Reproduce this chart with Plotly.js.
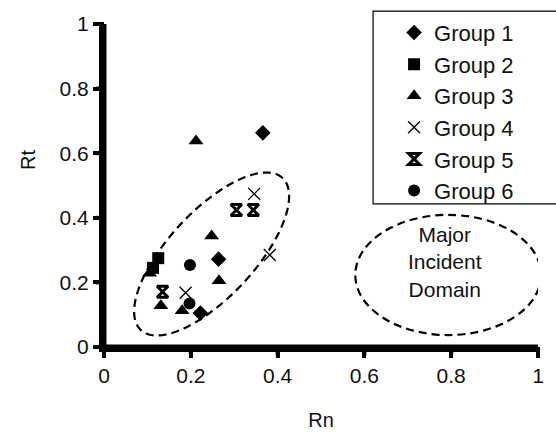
<!DOCTYPE html>
<html>
<head>
<meta charset="utf-8">
<script src="https://cdn.plot.ly/plotly-3.0.1.min.js"></script>
<style>html,body{margin:0;padding:0;background:#fff;}#chart{width:556px;height:436px;}</style>
</head>
<body>
<div id="chart"></div>
<script>
// ---- data ----
const groupNames = ["Group 1", "Group 2", "Group 3", "Group 4", "Group 5", "Group 6"];
const g1x = [0.366, 0.264, 0.222];
const g1y = [0.663, 0.272, 0.105];
const g2x = [0.125, 0.113];
const g2y = [0.275, 0.245];
const g3x = [0.212, 0.248, 0.265, 0.105, 0.131, 0.180];
const g3y = [0.638, 0.344, 0.205, 0.228, 0.128, 0.112];
const g4x = [0.346, 0.382, 0.188];
const g4y = [0.474, 0.285, 0.168];
const g5x = [0.305, 0.344, 0.135];
const g5y = [0.424, 0.424, 0.171];
const g6x = [0.198, 0.197];
const g6y = [0.254, 0.135];
const xTicks = [0, 0.2, 0.4, 0.6, 0.8, 1];
const yTicks = [0, 0.2, 0.4, 0.6, 0.8, 1];
const xTitle = "Rn";
const yTitle = "Rt";
const domainLabel = "Major<br>Incident<br>Domain";
// cluster ellipse: centre and two conjugate semi-diameters (data units)
const clusterCenter = [0.248, 0.288];
const clusterA = [0.1633, 0.2354];
const clusterB = [-0.0723, 0.0909];
// major incident domain ellipse (data units)
const domainCenter = [0.793, 0.223];
const domainRadii = [0.214, 0.186];

const font = "Liberation Sans, Arial, sans-serif";
const groupsX = [g1x, g2x, g3x, g4x, g5x, g6x];
const groupsY = [g1y, g2y, g3y, g4y, g5y, g6y];
const symbols = ["diamond", "square", "triangle-up", "x-thin-open", "hourglass-open", "circle"];
const sizes = [12, 12, 13, 12, 11, 12];

const traces = groupNames.map((n, i) => ({
  type: "scatter", mode: "markers", name: n,
  x: groupsX[i], y: groupsY[i],
  marker: {
    symbol: symbols[i], size: sizes[i], color: "#000",
    line: {color: "#000", width: i === 3 ? 1.3 : (i === 4 ? 3 : 0)}
  }
}));

// build ellipse path
let path = "";
const N = 120;
for (let k = 0; k <= N; k++) {
  const t = 2 * Math.PI * k / N;
  const x = clusterCenter[0] + clusterA[0] * Math.cos(t) + clusterB[0] * Math.sin(t);
  const y = clusterCenter[1] + clusterA[1] * Math.cos(t) + clusterB[1] * Math.sin(t);
  path += (k === 0 ? "M" : "L") + x.toFixed(4) + "," + y.toFixed(4);
}
path += "Z";

function axis(ticks, title, standoff) {
  const a = {
    range: [0, 1], showgrid: false, zeroline: false,
    showline: true, linecolor: "#000000", linewidth: 5,
    ticks: "outside", ticklen: 6, tickwidth: 4, tickcolor: "#000000",
    tickmode: "array", tickvals: ticks, ticktext: ticks.map(String),
    tickfont: {family: font, size: 21, color: "#111"}
  };
  if (title) a.title = {text: title, font: {family: font, size: 20, color: "#111"}, standoff: standoff};
  return a;
}

// axis lines and tick marks drawn as shapes (axis range = domain = [0,1], so paper == data)
const axisShapes = [
  {type: "line", xref: "paper", yref: "paper", x0: 0, x1: 1, y0: 0, y1: 0,
   line: {color: "#000", width: 5}},
  {type: "line", xref: "paper", yref: "paper", x0: 0, x1: 0, y0: 0, y1: 1,
   line: {color: "#000", width: 5}}
];
xTicks.forEach(v => axisShapes.push({
  type: "line", xref: "paper", yref: "paper", ysizemode: "pixel", yanchor: 0,
  x0: v, x1: v, y0: 0, y1: -8, line: {color: "#000", width: 4}
}));
yTicks.forEach(v => axisShapes.push({
  type: "line", xref: "paper", yref: "paper", xsizemode: "pixel", xanchor: 0,
  x0: 0, x1: -8, y0: v, y1: v, line: {color: "#000", width: 4}
}));

const layout = {
  width: 556, height: 436,
  margin: {l: 104, r: 18, t: 24, b: 89},
  paper_bgcolor: "#fff", plot_bgcolor: "#fff",
  showlegend: true,
  legend: {
    x: 0.62, y: 1.038, xanchor: "left", yanchor: "top",
    borderwidth: 0, bgcolor: "rgba(0,0,0,0)",
    font: {family: font, size: 22, color: "#111"},
    itemwidth: 30, indentation: 21
  },
  xaxis: axis(xTicks, xTitle, 28),
  yaxis: axis(yTicks, null, 0),
  shapes: [
    {type: "path", path: path, xref: "x", yref: "y",
     line: {color: "#000", width: 2.2, dash: "8px,5px"}},
    {type: "circle", xref: "x", yref: "y",
     x0: domainCenter[0] - domainRadii[0], x1: domainCenter[0] + domainRadii[0],
     y0: domainCenter[1] - domainRadii[1], y1: domainCenter[1] + domainRadii[1],
     line: {color: "#000", width: 2.2, dash: "8px,5px"}},
    // legend frame (right side runs off the picture)
    {type: "rect", xref: "paper", yref: "paper", x0: 0.620, x1: 1.07, y0: 0.443, y1: 1.040,
     line: {color: "#000", width: 1.2}, fillcolor: "rgba(0,0,0,0)"}
  ].concat(axisShapes),
  annotations: [
    {x: domainCenter[0] - 0.008, y: domainCenter[1] + 0.04, xref: "x", yref: "y",
     text: domainLabel, showarrow: false, align: "center",
     font: {family: font, size: 21, color: "#111"}},
    {x: -0.205, y: 0.579, xref: "paper", yref: "paper", text: yTitle, textangle: -90,
     showarrow: false, font: {family: font, size: 20, color: "#111"}}
  ]
};

Plotly.newPlot("chart", traces, layout, {displayModeBar: false});
</script>
</body>
</html>
